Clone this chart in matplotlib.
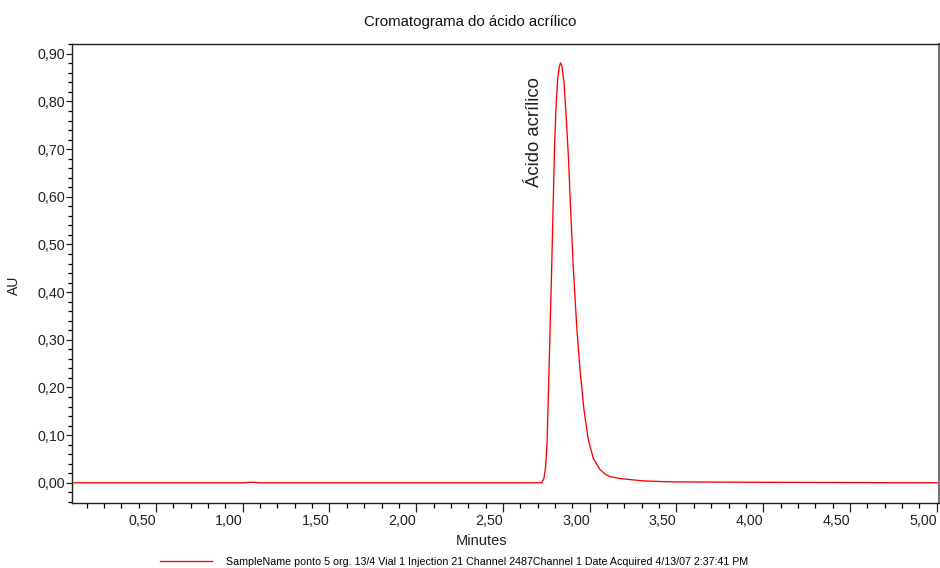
import matplotlib
matplotlib.use("Agg")
import matplotlib.pyplot as plt
from matplotlib.ticker import MultipleLocator, FuncFormatter

plt.rcParams['font.family'] = ['Liberation Sans', 'DejaVu Sans']

# Chromatogram trace (minutes, AU)
time_min = [0.02, 1.00, 1.05, 1.10, 2.70, 2.723, 2.736, 2.746, 2.754, 2.761, 2.771,
            2.781, 2.790, 2.798, 2.806, 2.815, 2.825, 2.832, 2.840, 2.852, 2.863,
            2.877, 2.890, 2.905, 2.925, 2.944, 2.967, 2.992, 3.021, 3.059, 3.090,
            3.117, 3.174, 3.307, 3.463, 4.00, 5.011]
absorbance = [0.0, 0.0, 0.0012, 0.0, 0.0, 0.0, 0.009, 0.034, 0.083, 0.174, 0.314,
              0.454, 0.594, 0.713, 0.790, 0.846, 0.874, 0.881, 0.874, 0.839, 0.776,
              0.685, 0.573, 0.454, 0.328, 0.237, 0.153, 0.090, 0.051, 0.028, 0.018,
              0.013, 0.009, 0.004, 0.002, 0.001, 0.0]

x_major = [0.5, 1.0, 1.5, 2.0, 2.5, 3.0, 3.5, 4.0, 4.5, 5.0]
y_major = [0.0, 0.1, 0.2, 0.3, 0.4, 0.5, 0.6, 0.7, 0.8, 0.9]

title = "Cromatograma do ácido acrílico"
peak_label = "Ácido acrílico"
peak_time = 2.832
legend_text = ("SampleName ponto 5 org. 13/4 Vial 1 Injection 21 Channel 2487"
               "Channel 1 Date Acquired 4/13/07 2:37:41 PM")

fig = plt.figure(figsize=(9.4, 5.68), dpi=100)
ax = fig.add_axes([72.3/940, 1-503.3/568, (938.7-72.3)/940, (503.3-44.3)/568])

line, = ax.plot(time_min, absorbance, color='#ff0000', lw=0.95, label=legend_text)

ax.set_xlim(0.0176, 5.0115)
ax.set_ylim(-0.043, 0.920)
ax.set_xticks(x_major)
ax.set_yticks(y_major)
ax.xaxis.set_minor_locator(MultipleLocator(0.1))
ax.yaxis.set_minor_locator(MultipleLocator(0.02))
fmt = FuncFormatter(lambda v, p: f"{v:.2f}".replace('.', ','))
ax.xaxis.set_major_formatter(fmt)
ax.yaxis.set_major_formatter(fmt)

ax.tick_params(axis='x', which='major', direction='out', length=6.5, width=0.9,
               pad=1.5, labelsize=10.3, colors='#222222')
ax.tick_params(axis='x', which='minor', direction='out', length=3.6, width=0.9)
ax.tick_params(axis='y', which='major', direction='out', length=4.3, width=0.9,
               pad=1.0, labelsize=10.3, colors='#222222')
ax.tick_params(axis='y', which='minor', direction='out', length=3.0, width=0.9)
for lbl in ax.get_xticklabels():
    lbl.set_horizontalalignment('right')

for s in ['left', 'bottom', 'top']:
    ax.spines[s].set_color('#222222')
    ax.spines[s].set_linewidth(1.0)
ax.spines['right'].set_color('#777777')
ax.spines['right'].set_linewidth(1.5)

fig.text(0.5, 1-22/568, title, ha='center', va='center', fontsize=10.8, color='#111111')
ax.set_xlabel("Minutes", fontsize=10.5, labelpad=5, color='#222222')
ax.xaxis.set_label_coords((482-72.3)/866.4, -0.066)
fig.text(14/940, 1-285/568, "AU", rotation=90, ha='center', va='center',
         fontsize=10, color='#222222')

ax.text(peak_time - 0.15, 0.852, peak_label, rotation=90, ha='center', va='top',
        fontsize=13.3, color='#222222')

fig.legend(handles=[line], loc='center left', bbox_to_anchor=(160/940, 1-562/568),
           frameon=False, fontsize=7.7, handlelength=4.85, handletextpad=1.3,
           borderpad=0, borderaxespad=0)

fig.savefig("out.png", dpi=100)
